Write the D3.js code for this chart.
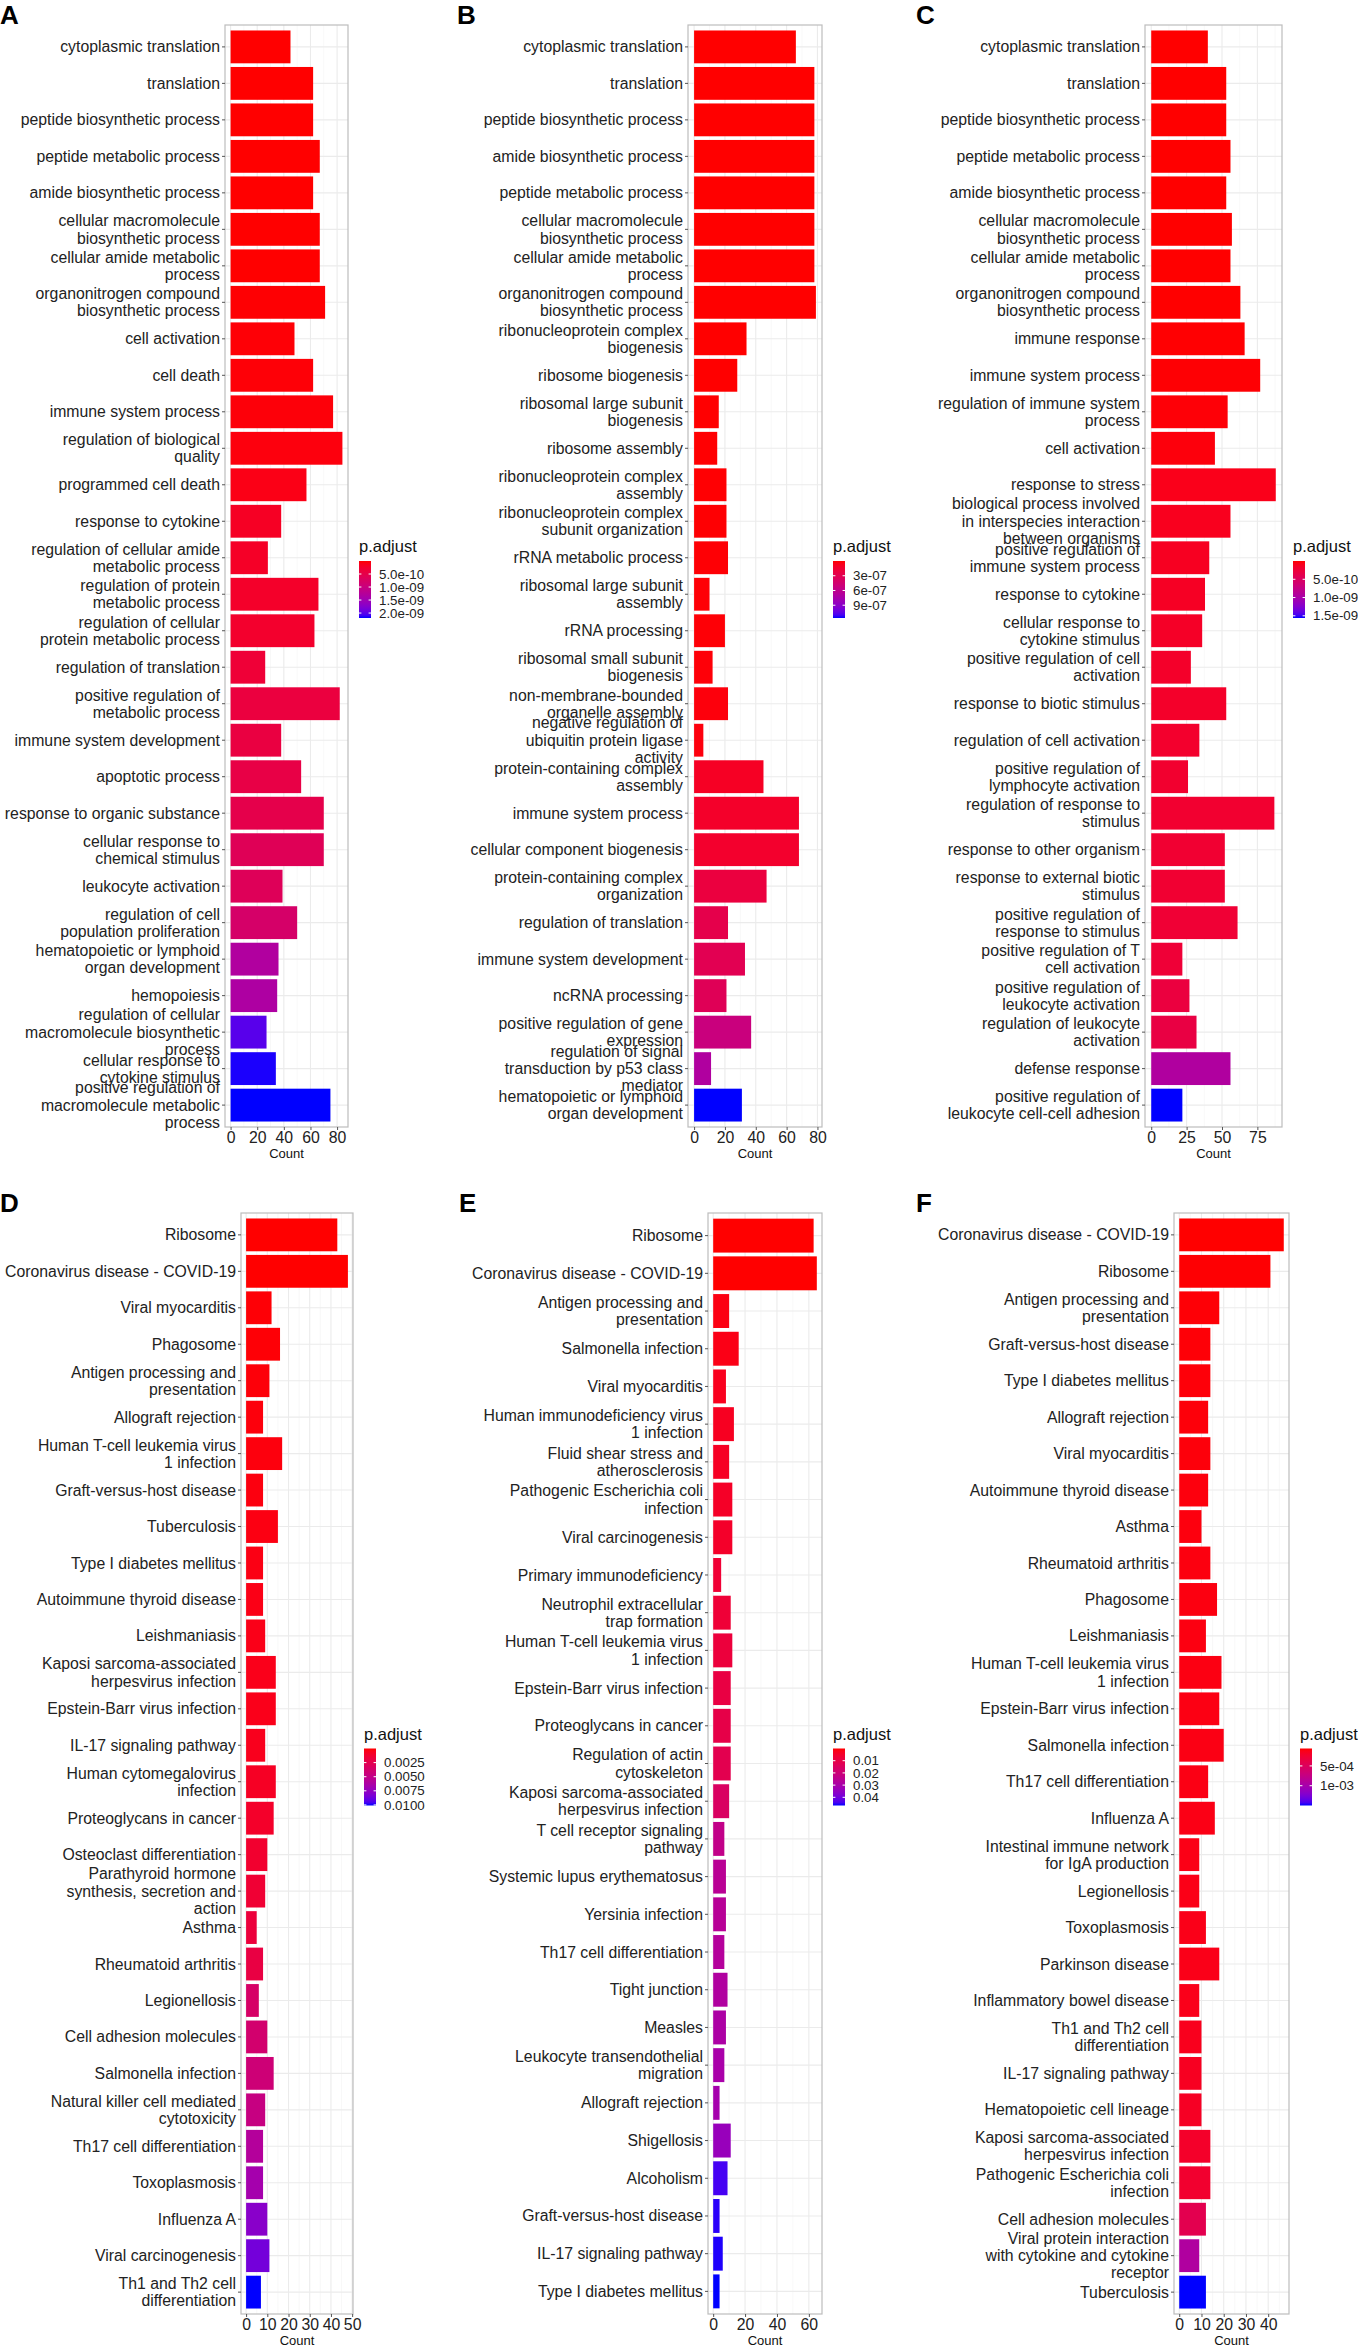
<!DOCTYPE html>
<meta charset="utf-8">
<script src="https://d3js.org/d3.v7.min.js"></script>
<style>
  body { margin: 0; background: #fff; }
  text { font-family: "Liberation Sans", Arial, sans-serif; }
</style>
<div id="chart"></div>
<script>

// ---- panel A: GO terms ----
const aTerms = ["cytoplasmic translation", "translation", "peptide biosynthetic process", "peptide metabolic process",
  "amide biosynthetic process", "cellular macromolecule\nbiosynthetic process", "cellular amide metabolic\nprocess",
  "organonitrogen compound\nbiosynthetic process", "cell activation", "cell death", "immune system process",
  "regulation of biological\nquality", "programmed cell death", "response to cytokine",
  "regulation of cellular amide\nmetabolic process", "regulation of protein\nmetabolic process",
  "regulation of cellular\nprotein metabolic process", "regulation of translation",
  "positive regulation of\nmetabolic process", "immune system development", "apoptotic process",
  "response to organic substance", "cellular response to\nchemical stimulus", "leukocyte activation",
  "regulation of cell\npopulation proliferation", "hematopoietic or lymphoid\norgan development", "hemopoiesis",
  "regulation of cellular\nmacromolecule biosynthetic\nprocess", "cellular response to\ncytokine stimulus",
  "positive regulation of\nmacromolecule metabolic\nprocess"];
const aCounts = [45, 62, 62, 67, 62, 67, 67, 71, 48, 62, 77, 84, 57, 38, 28, 66, 63, 26, 82, 38, 53, 70, 70, 39, 50, 36, 35, 27, 34, 75];
const aPadj = [3.2e-15, 8.5e-15, 1.1e-14, 2.4e-14, 3.0e-14, 5.6e-14, 9.1e-14, 1.1e-11, 2.2e-11, 2.4e-11, 3.3e-11, 4.4e-11,
  8.8e-11, 1.75e-10, 1.97e-10, 2.19e-10, 2.41e-10, 3.29e-10, 3.94e-10, 4.16e-10, 4.6e-10, 5.04e-10, 6.13e-10, 6.35e-10,
  7.88e-10, 1.31e-9, 1.34e-9, 2.01e-9, 2.17e-9, 2.19e-9];
const aCountTicks = [0, 20, 40, 60, 80];
const aLegendValues = [5e-10, 1e-9, 1.5e-9, 2e-9];
const aLegendLabels = ["5.0e-10", "1.0e-09", "1.5e-09", "2.0e-09"];

// ---- panel B ----
const bTerms = ["cytoplasmic translation", "translation", "peptide biosynthetic process", "amide biosynthetic process",
  "peptide metabolic process", "cellular macromolecule\nbiosynthetic process", "cellular amide metabolic\nprocess",
  "organonitrogen compound\nbiosynthetic process", "ribonucleoprotein complex\nbiogenesis", "ribosome biogenesis",
  "ribosomal large subunit\nbiogenesis", "ribosome assembly", "ribonucleoprotein complex\nassembly",
  "ribonucleoprotein complex\nsubunit organization", "rRNA metabolic process", "ribosomal large subunit\nassembly",
  "rRNA processing", "ribosomal small subunit\nbiogenesis", "non-membrane-bounded\norganelle assembly",
  "negative regulation of\nubiquitin protein ligase\nactivity", "protein-containing complex\nassembly",
  "immune system process", "cellular component biogenesis", "protein-containing complex\norganization",
  "regulation of translation", "immune system development", "ncRNA processing",
  "positive regulation of gene\nexpression", "regulation of signal\ntransduction by p53 class\nmediator",
  "hematopoietic or lymphoid\norgan development"];
const bCounts = [66, 78, 78, 78, 78, 78, 78, 79, 34, 28, 16, 15, 21, 21, 22, 10, 20, 12, 22, 6, 45, 68, 68, 47, 22, 33, 21, 37, 11, 31];
const bPadj = [1.9e-14, 3.5e-14, 4.1e-14, 6.0e-14, 8.2e-14, 1.1e-13, 1.6e-13, 2.3e-13, 1.2e-10, 4.5e-10, 2.1e-9, 3.8e-9,
  5.2e-9, 6.6e-9, 8.9e-9, 1.1e-8, 1.2e-8, 1.4e-8, 2.3e-8, 2.5e-8, 9.3e-8, 1.16e-7, 1.28e-7, 2.09e-7, 2.67e-7, 3.02e-7,
  3.25e-7, 5.22e-7, 6.96e-7, 1.16e-6];
const bCountTicks = [0, 20, 40, 60, 80];
const bLegendValues = [3e-7, 6e-7, 9e-7];
const bLegendLabels = ["3e-07", "6e-07", "9e-07"];

// ---- panel C ----
const cTerms = ["cytoplasmic translation", "translation", "peptide biosynthetic process", "peptide metabolic process",
  "amide biosynthetic process", "cellular macromolecule\nbiosynthetic process", "cellular amide metabolic\nprocess",
  "organonitrogen compound\nbiosynthetic process", "immune response", "immune system process",
  "regulation of immune system\nprocess", "cell activation", "response to stress",
  "biological process involved\nin interspecies interaction\nbetween organisms",
  "positive regulation of\nimmune system process", "response to cytokine", "cellular response to\ncytokine stimulus",
  "positive regulation of cell\nactivation", "response to biotic stimulus", "regulation of cell activation",
  "positive regulation of\nlymphocyte activation", "regulation of response to\nstimulus", "response to other organism",
  "response to external biotic\nstimulus", "positive regulation of\nresponse to stimulus",
  "positive regulation of T\ncell activation", "positive regulation of\nleukocyte activation",
  "regulation of leukocyte\nactivation", "defense response", "positive regulation of\nleukocyte cell-cell adhesion"];
const cCounts = [40, 53, 53, 56, 53, 57, 56, 63, 66, 77, 54, 45, 88, 56, 41, 38, 36, 28, 53, 34, 26, 87, 52, 52, 61, 22, 27, 32, 56, 22];
const cPadj = [2.8e-15, 6.1e-15, 7.9e-15, 1.5e-14, 2.2e-14, 3.9e-14, 5.6e-14, 8.4e-14, 4.1e-12, 9.6e-12, 1.8e-11, 3.1e-11,
  7.8e-11, 9.4e-11, 1.09e-10, 1.25e-10, 1.4e-10, 1.56e-10, 1.58e-10, 1.72e-10, 1.87e-10, 1.9e-10, 2.03e-10, 2.05e-10,
  2.18e-10, 2.34e-10, 2.81e-10, 3.12e-10, 9.36e-10, 1.56e-9];
const cCountTicks = [0, 25, 50, 75];
const cLegendValues = [5e-10, 1e-9, 1.5e-9];
const cLegendLabels = ["5.0e-10", "1.0e-09", "1.5e-09"];

// ---- panel D: KEGG ----
const dTerms = ["Ribosome", "Coronavirus disease - COVID-19", "Viral myocarditis", "Phagosome",
  "Antigen processing and\npresentation", "Allograft rejection", "Human T-cell leukemia virus\n1 infection",
  "Graft-versus-host disease", "Tuberculosis", "Type I diabetes mellitus", "Autoimmune thyroid disease",
  "Leishmaniasis", "Kaposi sarcoma-associated\nherpesvirus infection", "Epstein-Barr virus infection",
  "IL-17 signaling pathway", "Human cytomegalovirus\ninfection", "Proteoglycans in cancer",
  "Osteoclast differentiation", "Parathyroid hormone\nsynthesis, secretion and\naction", "Asthma",
  "Rheumatoid arthritis", "Legionellosis", "Cell adhesion molecules", "Salmonella infection",
  "Natural killer cell mediated\ncytotoxicity", "Th17 cell differentiation", "Toxoplasmosis", "Influenza A",
  "Viral carcinogenesis", "Th1 and Th2 cell\ndifferentiation"];
const dCounts = [43, 48, 12, 16, 11, 8, 17, 8, 15, 8, 8, 9, 14, 14, 9, 14, 13, 10, 9, 5, 8, 6, 10, 13, 9, 8, 8, 10, 11, 7];
const dPadj = [2.3e-6, 5.1e-6, 1.01e-4, 1.05e-4, 1.52e-4, 2.02e-4, 2.06e-4, 2.53e-4, 3.03e-4, 3.54e-4, 4.04e-4, 4.55e-4,
  5.05e-4, 5.1e-4, 6.06e-4, 8.08e-4, 1.01e-3, 1.21e-3, 1.41e-3, 1.72e-3, 2.02e-3, 3.54e-3, 3.84e-3, 4.24e-3, 4.75e-3,
  5.86e-3, 6.67e-3, 7.88e-3, 8.59e-3, 1.01e-2];
const dCountTicks = [0, 10, 20, 30, 40, 50];
const dLegendValues = [0.0025, 0.005, 0.0075, 0.01];
const dLegendLabels = ["0.0025", "0.0050", "0.0075", "0.0100"];

// ---- panel E ----
const eTerms = ["Ribosome", "Coronavirus disease - COVID-19", "Antigen processing and\npresentation",
  "Salmonella infection", "Viral myocarditis", "Human immunodeficiency virus\n1 infection",
  "Fluid shear stress and\natherosclerosis", "Pathogenic Escherichia coli\ninfection", "Viral carcinogenesis",
  "Primary immunodeficiency", "Neutrophil extracellular\ntrap formation", "Human T-cell leukemia virus\n1 infection",
  "Epstein-Barr virus infection", "Proteoglycans in cancer", "Regulation of actin\ncytoskeleton",
  "Kaposi sarcoma-associated\nherpesvirus infection", "T cell receptor signaling\npathway",
  "Systemic lupus erythematosus", "Yersinia infection", "Th17 cell differentiation", "Tight junction", "Measles",
  "Leukocyte transendothelial\nmigration", "Allograft rejection", "Shigellosis", "Alcoholism",
  "Graft-versus-host disease", "IL-17 signaling pathway", "Type I diabetes mellitus"];
const eCounts = [63, 65, 10, 16, 8, 13, 10, 12, 12, 5, 11, 12, 11, 11, 11, 10, 7, 8, 8, 7, 9, 8, 7, 4, 11, 9, 4, 6, 4];
const ePadj = [1.2e-9, 3.4e-9, 1.4e-3, 1.87e-3, 2.8e-3, 3.27e-3, 3.74e-3, 4.2e-3, 4.67e-3, 6.54e-3, 7.0e-3, 7.94e-3,
  9.34e-3, 1.03e-2, 1.17e-2, 1.54e-2, 2.34e-2, 2.57e-2, 2.62e-2, 2.71e-2, 2.8e-2, 2.9e-2, 2.99e-2, 3.08e-2, 3.36e-2,
  4.44e-2, 4.58e-2, 4.62e-2, 4.67e-2];
const eCountTicks = [0, 20, 40, 60];
const eLegendValues = [0.01, 0.02, 0.03, 0.04];
const eLegendLabels = ["0.01", "0.02", "0.03", "0.04"];

// ---- panel F ----
const fTerms = ["Coronavirus disease - COVID-19", "Ribosome", "Antigen processing and\npresentation",
  "Graft-versus-host disease", "Type I diabetes mellitus", "Allograft rejection", "Viral myocarditis",
  "Autoimmune thyroid disease", "Asthma", "Rheumatoid arthritis", "Phagosome", "Leishmaniasis",
  "Human T-cell leukemia virus\n1 infection", "Epstein-Barr virus infection", "Salmonella infection",
  "Th17 cell differentiation", "Influenza A", "Intestinal immune network\nfor IgA production", "Legionellosis",
  "Toxoplasmosis", "Parkinson disease", "Inflammatory bowel disease", "Th1 and Th2 cell\ndifferentiation",
  "IL-17 signaling pathway", "Hematopoietic cell lineage", "Kaposi sarcoma-associated\nherpesvirus infection",
  "Pathogenic Escherichia coli\ninfection", "Cell adhesion molecules",
  "Viral protein interaction\nwith cytokine and cytokine\nreceptor", "Tuberculosis"];
const fCounts = [47, 41, 18, 14, 14, 13, 14, 13, 10, 14, 17, 12, 19, 18, 20, 13, 16, 9, 9, 12, 18, 9, 10, 10, 10, 14, 14, 12, 9, 12];
const fPadj = [6.0e-5, 6.7e-5, 7.4e-5, 7.7e-5, 8.0e-5, 8.3e-5, 8.6e-5, 8.9e-5, 9.2e-5, 9.5e-5, 9.7e-5, 1.0e-4, 1.03e-4,
  1.06e-4, 1.09e-4, 1.12e-4, 1.15e-4, 1.18e-4, 1.2e-4, 1.23e-4, 1.26e-4, 1.32e-4, 1.46e-4, 1.61e-4, 1.75e-4, 2.04e-4,
  2.33e-4, 4.2e-4, 9.24e-4, 1.5e-3];
const fCountTicks = [0, 10, 20, 30, 40];
const fLegendValues = [5e-4, 1e-3];
const fLegendLabels = ["5e-04", "1e-03"];

// ---- layout ----
const W = 1358, H = 2349;
const fs = 15.8, lh = 17.3;

const svg = d3.select("#chart").append("svg")
    .attr("width", W)
    .attr("height", H);
svg.append("rect").attr("width", W).attr("height", H).attr("fill", "#fff");
const defs = svg.append("defs");

const panels = [
  {id: "A", terms: aTerms, counts: aCounts, padj: aPadj, ticks: aCountTicks, legVals: aLegendValues, legLabels: aLegendLabels,
   left: 225, right: 348, top: 25, bottom: 1127, letterX: 0, legendX: 359},
  {id: "B", terms: bTerms, counts: bCounts, padj: bPadj, ticks: bCountTicks, legVals: bLegendValues, legLabels: bLegendLabels,
   left: 688, right: 822, top: 25, bottom: 1127, letterX: 457, legendX: 833},
  {id: "C", terms: cTerms, counts: cCounts, padj: cPadj, ticks: cCountTicks, legVals: cLegendValues, legLabels: cLegendLabels,
   left: 1145, right: 1282, top: 25, bottom: 1127, letterX: 916, legendX: 1293},
  {id: "D", terms: dTerms, counts: dCounts, padj: dPadj, ticks: dCountTicks, legVals: dLegendValues, legLabels: dLegendLabels,
   left: 241, right: 353, top: 1213, bottom: 2314, letterX: 0, legendX: 364},
  {id: "E", terms: eTerms, counts: eCounts, padj: ePadj, ticks: eCountTicks, legVals: eLegendValues, legLabels: eLegendLabels,
   left: 708, right: 822, top: 1213, bottom: 2314, letterX: 459, legendX: 833},
  {id: "F", terms: fTerms, counts: fCounts, padj: fPadj, ticks: fCountTicks, legVals: fLegendValues, legLabels: fLegendLabels,
   left: 1174, right: 1289, top: 1213, bottom: 2314, letterX: 916, legendX: 1300}
];

panels.forEach(drawPanel);

function drawPanel(p) {
  const g = svg.append("g");
  const maxC = d3.max(p.counts);

  const x = d3.scaleLinear()
    .domain([-0.05 * maxC, 1.05 * maxC])
    .range([p.left, p.right]);
  const y = d3.scaleBand()
    .domain(d3.range(p.terms.length))
    .range([p.top, p.bottom])
    .paddingInner(0.1)
    .paddingOuter(0.15);
  const color = d3.scaleLinear()
    .domain(d3.extent(p.padj))
    .range(["#ff0000", "#0000ff"])
    .interpolate(d3.interpolateLab);

  // minor grid (halfway between breaks)
  const step = p.ticks[1] - p.ticks[0];
  const minor = p.ticks.map(t => t + step / 2).filter(v => v < x.domain()[1]);
  g.selectAll(".minor")
    .data(minor)
    .join("line")
      .attr("x1", d => x(d)).attr("x2", d => x(d))
      .attr("y1", p.top).attr("y2", p.bottom)
      .attr("stroke", "#f4f4f4").attr("stroke-width", 0.6);

  // major grid
  g.selectAll(".vmajor")
    .data(p.ticks)
    .join("line")
      .attr("x1", d => x(d)).attr("x2", d => x(d))
      .attr("y1", p.top).attr("y2", p.bottom)
      .attr("stroke", "#ebebeb").attr("stroke-width", 1.1);
  g.selectAll(".hmajor")
    .data(d3.range(p.terms.length))
    .join("line")
      .attr("x1", p.left).attr("x2", p.right)
      .attr("y1", d => y(d) + y.bandwidth() / 2)
      .attr("y2", d => y(d) + y.bandwidth() / 2)
      .attr("stroke", "#ebebeb").attr("stroke-width", 1.1);

  // bars
  g.selectAll(".bar")
    .data(p.counts)
    .join("rect")
      .attr("x", x(0))
      .attr("y", (d, i) => y(i))
      .attr("width", d => x(d) - x(0))
      .attr("height", y.bandwidth())
      .attr("fill", (d, i) => color(p.padj[i]));

  // frame
  g.append("rect")
    .attr("x", p.left).attr("y", p.top)
    .attr("width", p.right - p.left).attr("height", p.bottom - p.top)
    .attr("fill", "none").attr("stroke", "#bdbdbd").attr("stroke-width", 1.2);

  // y axis
  const yAxis = g.append("g")
    .attr("transform", `translate(${p.left},0)`)
    .call(d3.axisLeft(y).tickSize(3).tickPadding(2).tickFormat(i => p.terms[i]));
  yAxis.select(".domain").remove();
  yAxis.selectAll(".tick line").attr("stroke", "#555");
  yAxis.selectAll(".tick text")
    .attr("fill", "#222")
    .style("font-size", fs + "px")
    .attr("dy", null)
    .each(function(i) {
      const lines = p.terms[i].split("\n");
      const t = d3.select(this).text(null);
      lines.forEach((ln, k) => {
        t.append("tspan")
          .attr("x", -5)
          .attr("y", -(lines.length - 1) * lh / 2 + k * lh + 0.35 * fs)
          .text(ln);
      });
    });

  // x axis
  const xAxis = g.append("g")
    .attr("transform", `translate(0,${p.bottom})`)
    .call(d3.axisBottom(x).tickValues(p.ticks).tickSize(3).tickPadding(1.5).tickFormat(d3.format("d")));
  xAxis.select(".domain").remove();
  xAxis.selectAll(".tick line").attr("stroke", "#555");
  xAxis.selectAll(".tick text").attr("fill", "#222").style("font-size", fs + "px");

  g.append("text")
    .attr("x", (p.left + p.right) / 2)
    .attr("y", p.bottom + 31)
    .attr("text-anchor", "middle")
    .style("font-size", "13px")
    .attr("fill", "#111")
    .text("Count");

  // panel letter
  g.append("text")
    .attr("x", p.letterX)
    .attr("y", p.top - 1)
    .style("font-size", "26px")
    .style("font-weight", "bold")
    .attr("fill", "#000")
    .text(p.id);

  // legend
  const barW = 12, barH = 57;
  const mid = (p.top + p.bottom) / 2;
  const barTop = mid - 15;
  const gradId = "grad" + p.id;
  const grad = defs.append("linearGradient")
    .attr("id", gradId)
    .attr("x1", 0).attr("y1", 0).attr("x2", 0).attr("y2", 1);
  const dom = color.domain();
  d3.range(0, 1.0001, 0.05).forEach(f => {
    grad.append("stop")
      .attr("offset", f)
      .attr("stop-color", color(dom[0] + f * (dom[1] - dom[0])));
  });
  const ly = d3.scaleLinear().domain(dom).range([barTop, barTop + barH]);
  const lg = g.append("g");
  lg.append("text")
    .attr("x", p.legendX)
    .attr("y", barTop - 9)
    .style("font-size", "16.5px")
    .attr("fill", "#111")
    .text("p.adjust");
  lg.append("rect")
    .attr("x", p.legendX).attr("y", barTop)
    .attr("width", barW).attr("height", barH)
    .attr("fill", `url(#${gradId})`);
  lg.selectAll(".lt")
    .data(p.legVals)
    .join("path")
      .attr("d", d => `M${p.legendX},${ly(d)}h2.4M${p.legendX + barW - 2.4},${ly(d)}h2.4`)
      .attr("stroke", "#fff").attr("stroke-width", 1);
  lg.selectAll(".ll")
    .data(p.legVals)
    .join("text")
      .attr("x", p.legendX + barW + 8)
      .attr("y", d => ly(d))
      .attr("dy", "0.35em")
      .style("font-size", "13.3px")
      .attr("fill", "#222")
      .text((d, i) => p.legLabels[i]);
}
</script>
